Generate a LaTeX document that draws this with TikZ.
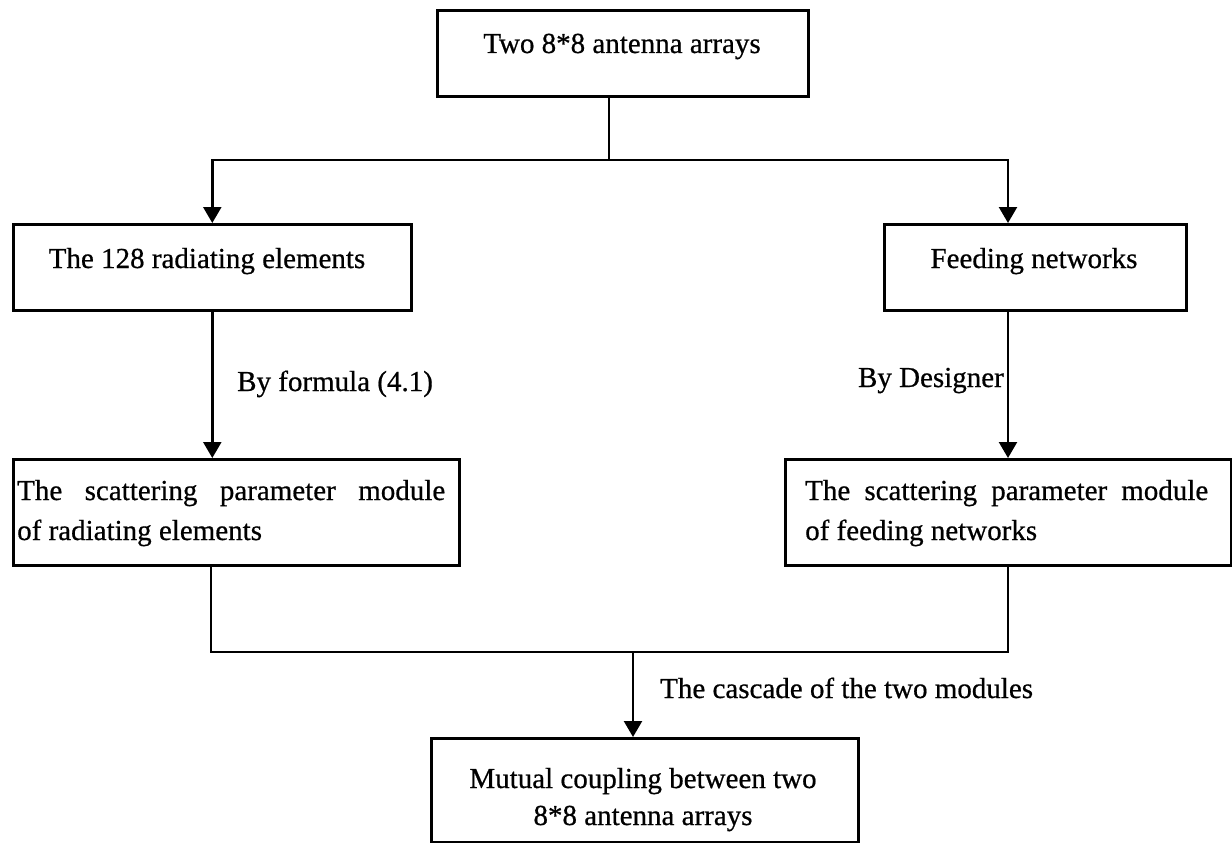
\documentclass[tikz,border=0pt]{standalone}
\usepackage{fontspec}
\setmainfont{Liberation Serif}[FakeBold=0.6]
\usetikzlibrary{arrows.meta,calc}
\begin{document}
\begin{tikzpicture}[x=1pt,y=-1pt,
  box/.style={draw, line width=2.6pt, inner sep=0pt, anchor=north west},
  txt/.style={font=\fontsize{29}{38}\selectfont, inner sep=0pt},
  link/.style={line width=2.4pt},
  arr/.style={link, -{Triangle[length=16pt,width=18pt]}},
]
\useasboundingbox (0,0) rectangle (1232,843);

% boxes
\node[box, minimum width=371pt, minimum height=86pt]  (top)    at (436,9)   {};
\node[box, minimum width=398pt, minimum height=86pt]  (rad)    at (12,223)  {};
\node[box, minimum width=302pt, minimum height=86pt]  (feed)   at (883,223) {};
\node[box, minimum width=446pt, minimum height=106pt] (smodL)  at (12,458)  {};
\node[box, minimum width=446pt, minimum height=106pt] (smodR)  at (784,458) {};
\node[box, minimum width=427pt, minimum height=104pt] (mutual) at (430,737) {};

% box texts
\node[txt, anchor=base] (topT) at (622,53) {Two 8*8 antenna arrays};
\node[txt, anchor=base] (radT) at (207,268) {The 128 radiating elements};
\node[txt, anchor=base] (feedT) at (1034,268) {Feeding networks};
\node[txt, anchor=base west] (smodLa) at (17,500) {\makebox[428pt][s]{The scattering parameter module}};
\node[txt, anchor=base west] (smodLb) at (17,540) {of radiating elements};
\node[txt, anchor=base west] (smodRa) at (805,500) {\makebox[403pt][s]{The scattering parameter module}};
\node[txt, anchor=base west] (smodRb) at (805,540) {of feeding networks};
\node[txt, anchor=base] (mutA) at (643,788) {Mutual coupling between two};
\node[txt, anchor=base] (mutB) at (643,825) {8*8 antenna arrays};

% connector labels
\node[txt, anchor=base west] (lblF) at (237,391) {By formula (4.1)};
\node[txt, anchor=base east] (lblD) at (1004,387) {By Designer};
\node[txt, anchor=base west] (lblC) at (660,698) {The cascade of the two modules};

% branching from the top box
\coordinate (split) at (609,160);
\coordinate (rdrop) at (1008,160);
\draw[link] (top.south -| split) -- (split);
\draw[arr] (split) -| (rad.north);
\draw[arr] (split) -- (rdrop) -- (rdrop |- feed.north);

% down to the scattering modules
\draw[arr] (rad.south) -- (rad.south |- smodL.north);
\draw[arr] (feed.south -| rdrop) -- (rdrop |- smodR.north);

% cascade of the two modules
\coordinate (jl) at (211,652);
\coordinate (jr) at (1008,652);
\coordinate (jm) at (633,652);
\draw[link] (smodL.south -| jl) -- (jl) -- (jr) -- (smodR.south -| jr);
\draw[arr] (jm) -- (jm |- mutual.north);
\end{tikzpicture}
\end{document}
